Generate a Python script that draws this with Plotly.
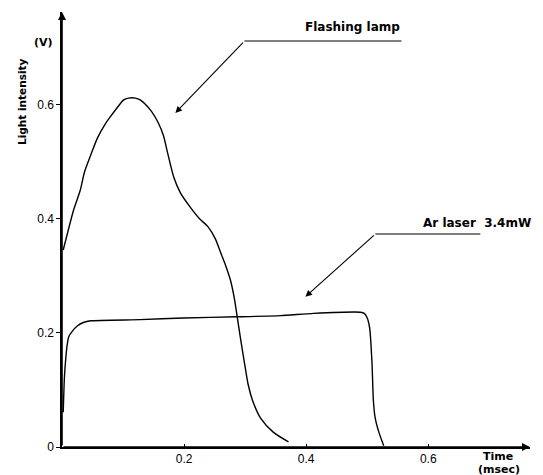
import plotly.graph_objects as go

# Flashing lamp trace (time in msec, light intensity in V)
lamp_t = [0.002, 0.007, 0.019, 0.030, 0.037, 0.047, 0.058, 0.071, 0.079, 0.091,
          0.101, 0.109, 0.120, 0.128, 0.145, 0.158, 0.166, 0.173, 0.183, 0.194,
          0.210, 0.225, 0.239, 0.251, 0.260, 0.268, 0.276, 0.282, 0.287, 0.292, 0.300,
          0.305, 0.312, 0.325, 0.346, 0.371]
lamp_v = [0.345, 0.366, 0.415, 0.450, 0.482, 0.511, 0.541, 0.566, 0.578, 0.595,
          0.608, 0.611, 0.611, 0.608, 0.590, 0.567, 0.546, 0.515, 0.473, 0.445,
          0.420, 0.400, 0.386, 0.365, 0.340, 0.318, 0.292, 0.262, 0.228, 0.193, 0.140,
          0.109, 0.082, 0.051, 0.026, 0.009]

# Ar laser 3.4 mW trace
laser_t = [0.002, 0.004, 0.006, 0.008, 0.011, 0.017, 0.025, 0.035, 0.047, 0.128,
           0.199, 0.287, 0.358, 0.412, 0.489, 0.495, 0.500, 0.504, 0.506, 0.508,
           0.510, 0.513, 0.519, 0.527]
laser_v = [0.061, 0.123, 0.153, 0.175, 0.193, 0.203, 0.212, 0.218, 0.221, 0.223,
           0.226, 0.228, 0.230, 0.234, 0.236, 0.234, 0.226, 0.208, 0.182, 0.142,
           0.082, 0.051, 0.026, 0.002]

x_ticks = [0.2, 0.4, 0.6]
x_tick_labels = ["0.2", "0.4", "0.6"]
y_ticks = [0, 0.2, 0.4, 0.6]
y_tick_labels = ["0", "0.2", "0.4", "0.6"]

X_MAX = 0.7666
Y_MAX = 0.7618
FONT = "DejaVu Sans"
TICKFONT = "Liberation Sans"

W, H = 543, 475
ML, MR, MT, MB = 62, 13, 12, 28
pw, ph = W - ML - MR, H - MT - MB


def px(xp):
    return (xp - ML) / pw


def py(yp):
    return (H - MB - yp) / ph


fig = go.Figure()
fig.add_trace(go.Scatter(x=lamp_t, y=lamp_v, mode="lines",
                         line=dict(color="black", width=1.4, shape="spline", smoothing=0.8),
                         name="Flashing lamp", showlegend=False, cliponaxis=False, hoverinfo="skip"))
fig.add_trace(go.Scatter(x=laser_t, y=laser_v, mode="lines",
                         line=dict(color="black", width=1.4, shape="spline", smoothing=0.5),
                         name="Ar laser 3.4mW", showlegend=False, cliponaxis=False, hoverinfo="skip"))

annotations = []
shapes = []
lab_font = dict(family=FONT, size=12, color="black")

# axis arrows
annotations.append(dict(x=X_MAX, y=0, ax=0, ay=0, xref="x", yref="y", axref="x", ayref="y",
                        showarrow=True, arrowhead=2, arrowsize=1, arrowwidth=1.6, arrowcolor="black", text=""))
annotations.append(dict(x=0, y=Y_MAX, ax=0, ay=0, xref="x", yref="y", axref="x", ayref="y",
                        showarrow=True, arrowhead=2, arrowsize=1, arrowwidth=1.6, arrowcolor="black", text=""))

# leader for Flashing lamp
shapes.append(dict(type="line", xref="x", yref="y", x0=0.2988, y0=0.711, x1=0.556, y1=0.711,
                   line=dict(color="black", width=1.2)))
annotations.append(dict(x=0.1857, y=0.585, ax=0.2988, ay=0.711, xref="x", yref="y", axref="x", ayref="y",
                        showarrow=True, arrowhead=2, arrowsize=1.2, arrowwidth=1.1, arrowcolor="black", text=""))
annotations.append(dict(x=px(352), y=py(27), xref="paper", yref="paper", xanchor="center", yanchor="middle",
                        showarrow=False, text="<b>Flashing lamp</b>", font=lab_font))

# leader for Ar laser
shapes.append(dict(type="line", xref="x", yref="y", x0=0.5133, y0=0.373, x1=0.6853, y1=0.373,
                   line=dict(color="black", width=1.2)))
annotations.append(dict(x=0.3987, y=0.263, ax=0.5133, ay=0.373, xref="x", yref="y", axref="x", ayref="y",
                        showarrow=True, arrowhead=2, arrowsize=1.2, arrowwidth=1.1, arrowcolor="black", text=""))
annotations.append(dict(x=px(477), y=py(223), xref="paper", yref="paper", xanchor="center", yanchor="middle",
                        showarrow=False, text="<b>Ar laser  3.4mW</b>", font=lab_font))

# axis titles
small_lab = dict(family=FONT, size=11, color="black")
annotations.append(dict(x=px(498), y=py(456), xref="paper", yref="paper", xanchor="center", yanchor="middle",
                        showarrow=False, text="<b>Time</b>", font=small_lab))
annotations.append(dict(x=px(499), y=py(469), xref="paper", yref="paper", xanchor="center", yanchor="middle",
                        showarrow=False, text="<b>(msec)</b>", font=small_lab))
annotations.append(dict(x=px(22), y=py(102), xref="paper", yref="paper", xanchor="center", yanchor="middle",
                        showarrow=False, text="<b>Light intensity</b>", textangle=-90,
                        font=dict(family=FONT, size=10.5, color="black")))
annotations.append(dict(x=px(43), y=py(43), xref="paper", yref="paper", xanchor="center", yanchor="middle",
                        showarrow=False, text="<b>(V)</b>", font=dict(family=FONT, size=11, color="black")))

fig.update_layout(
    width=W, height=H,
    margin=dict(l=ML, r=MR, t=MT, b=MB, autoexpand=False),
    paper_bgcolor="white", plot_bgcolor="white",
    font=dict(family=FONT, size=11, color="black"),
    annotations=annotations, shapes=shapes,
    hovermode=False,
    xaxis=dict(range=[0, X_MAX], tickvals=x_ticks, ticktext=x_tick_labels, showgrid=False, zeroline=False,
               showline=True, linecolor="black", linewidth=1.6, ticks="inside", ticklen=3, tickcolor="black",
               tickfont=dict(family=TICKFONT, size=12, color="black"), automargin=False, fixedrange=True),
    yaxis=dict(range=[0, Y_MAX], tickvals=y_ticks, ticktext=y_tick_labels, showgrid=False, zeroline=False,
               showline=True, linecolor="black", linewidth=1.6, ticks="outside", ticklen=4, tickcolor="black",
               tickfont=dict(family=TICKFONT, size=12, color="black"), automargin=False, fixedrange=True),
)

fig.write_html("out.html", config={"displayModeBar": False, "staticPlot": True},
               post_script="document.body.style.margin='0';document.body.style.padding='0';")
